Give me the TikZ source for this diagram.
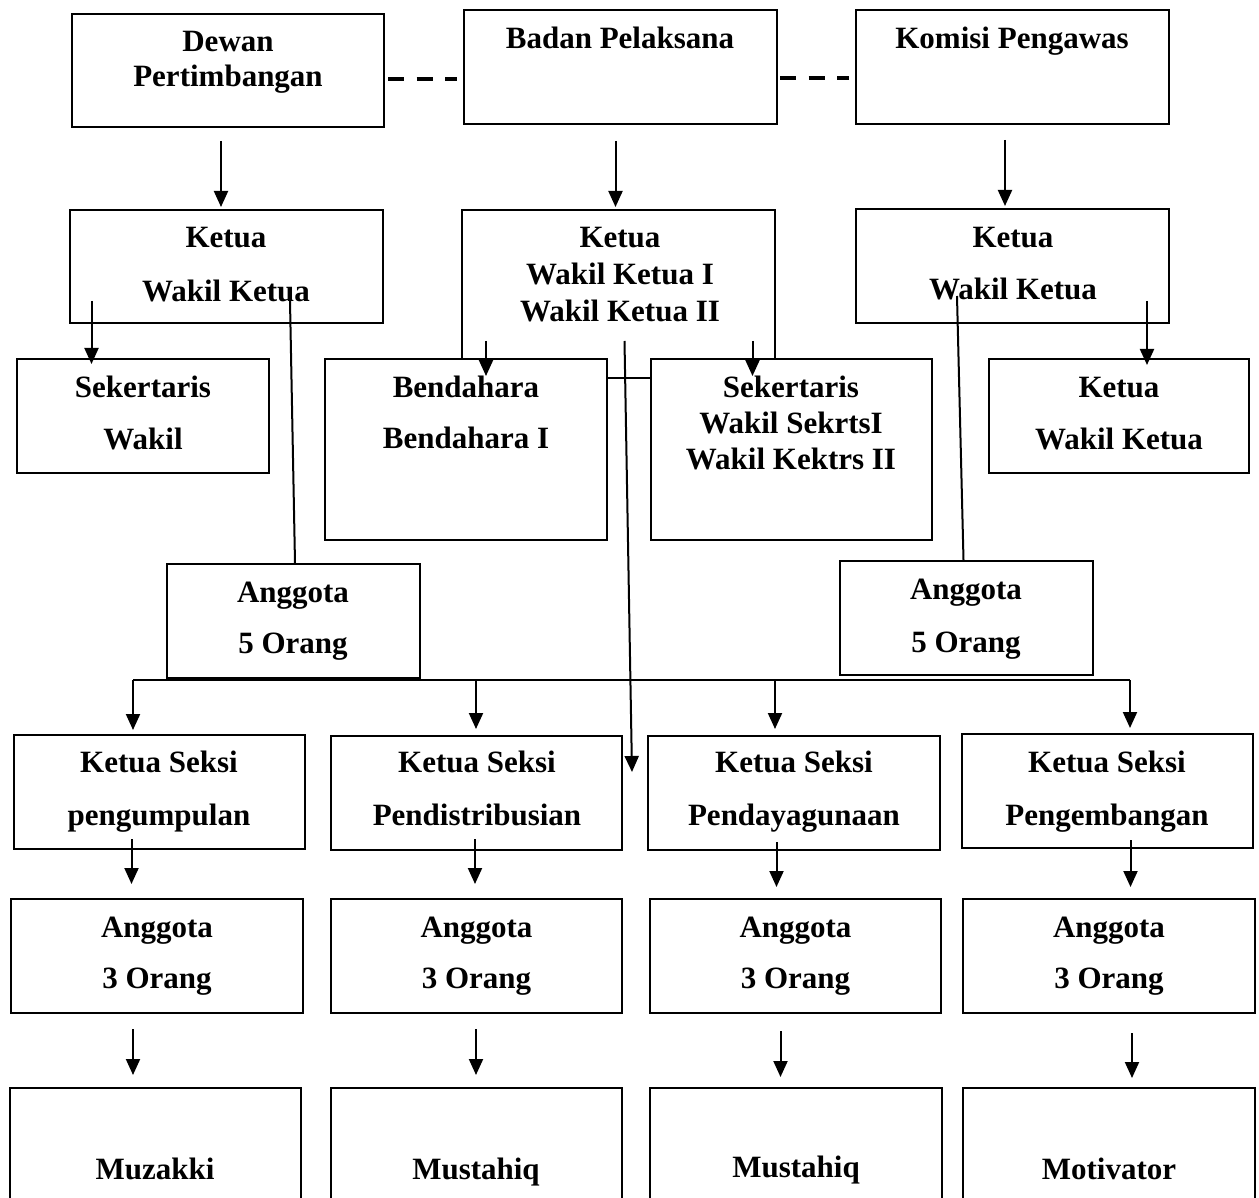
\documentclass[tikz,border=0pt]{standalone}
\usepackage{fontspec}
\setmainfont{Liberation Serif}
\usetikzlibrary{arrows.meta,calc}
\tikzset{
  box/.style={draw, line width=2pt, fill=white, inner sep=0pt},
  txt/.style={anchor=base, inner sep=0pt, font=\bfseries\fontsize{31}{37}\selectfont},
  arr/.style={line width=2pt, -{Triangle[length=16pt,width=14pt]}},
  ln/.style={line width=2pt},
  dashline/.style={line width=4pt, dash pattern=on 16pt off 12.5pt},
}
\begin{document}
\begin{tikzpicture}[x=1pt,y=-1pt]
\clip (0,0) rectangle (1259,1198);
\fill[white] (0,0) rectangle (1259,1198);

% top row
\node[box, minimum width=312pt, minimum height=113pt] (dewan) at (228,70.5) {};
\node[box, minimum width=313pt, minimum height=114pt] (badan) at (620.5,67) {};
\node[box, minimum width=313pt, minimum height=114pt] (komisi) at (1012.5,67) {};
\node[txt] (t-dewan1) at (228,52) {Dewan};
\node[txt] (t-dewan2) at (228,87) {Pertimbangan};
\node[txt] (t-badan) at (620,49) {Badan Pelaksana};
\node[txt] (t-komisi) at (1012,49) {Komisi Pengawas};

\draw[dashline] ($(dewan.east)+(3,8.5)$) -- ($(dewan.east -| badan.west)+(-6,8.5)$);
\draw[dashline] ($(badan.east)+(2,11)$) -- ($(badan.east -| komisi.west)+(-6,11)$);

% second row
\node[box, minimum width=313pt, minimum height=113pt] (kl) at (226.5,266.5) {};
\node[box, minimum width=313pt, minimum height=168pt] (km) at (618.5,294) {};
\node[box, minimum width=313pt, minimum height=114pt] (kr) at (1012.5,266) {};
\node[txt] (t-kl1) at (226,248) {Ketua};
\node[txt] (t-kl2) at (226,302) {Wakil Ketua};
\node[txt] (t-km1) at (620,248) {Ketua};
\node[txt] (t-km2) at (620,285) {Wakil Ketua I};
\node[txt] (t-km3) at (620,322) {Wakil Ketua II};
\node[txt] (t-kr1) at (1013,248) {Ketua};
\node[txt] (t-kr2) at (1013,300) {Wakil Ketua};

\draw[arr] ($(dewan.south)+(-7,13)$) -- ($(kl.north)+(-5.5,-2)$);
\draw[arr] ($(badan.south)+(-5,16)$) -- ($(km.north)+(-3,-2)$);
\draw[arr] ($(komisi.south)+(-7.5,15)$) -- ($(kr.north)+(-7.5,-2)$);

% inner connectors starting inside the boxes
\coordinate (c-kl-sek) at ($(kl.south)+(-135,-23)$);
\coordinate (c-kl-ang) at ($(kl.south)+(63.5,-23)$);
\coordinate (c-km-bend) at ($(km.south)+(-132.5,-38)$);
\coordinate (c-km-sek) at ($(km.south)+(134,-38)$);
\coordinate (c-km-long) at ($(km.south)+(6,-38)$);
\coordinate (c-kr-ang) at ($(kr.south)+(-55.5,-28)$);
\coordinate (c-kr-ket) at ($(kr.south)+(134.5,-23)$);

% third row
\node[box, minimum width=252pt, minimum height=114pt] (sekl) at (143,416) {};
\node[box, minimum width=282pt, minimum height=181pt] (bend) at (466,449.5) {};
\node[box, minimum width=281pt, minimum height=181pt] (sekm) at (791.5,449.5) {};
\node[box, minimum width=260pt, minimum height=114pt] (ketr) at (1119,416) {};
\node[txt] (t-sekl1) at (143,397) {Sekertaris};
\node[txt] (t-sekl2) at (143,449) {Wakil};
\node[txt] (t-bend1) at (466,397) {Bendahara};
\node[txt] (t-bend2) at (466,448) {Bendahara I};
\node[txt] (t-sekm1) at (791,397) {Sekertaris};
\node[txt] (t-sekm2) at (791,433) {Wakil SekrtsI};
\node[txt] (t-sekm3) at (791,469) {Wakil Kektrs II};
\node[txt] (t-ketr1) at (1119,397) {Ketua};
\node[txt] (t-ketr2) at (1119,449) {Wakil Ketua};

% fourth row
\node[box, minimum width=253pt, minimum height=114pt] (angl) at (293.5,621) {};
\node[box, minimum width=253pt, minimum height=114pt] (angr) at (966.5,618) {};
\node[txt] (t-angl1) at (293,602) {Anggota};
\node[txt] (t-angl2) at (293,653) {5 Orang};
\node[txt] (t-angr1) at (966,599) {Anggota};
\node[txt] (t-angr2) at (966,652) {5 Orang};

% seksi rows
\node[box, minimum width=291pt, minimum height=114pt] (ks1) at (159.5,792) {};
\node[box, minimum width=291pt, minimum height=114pt] (ks2) at (476.5,793) {};
\node[box, minimum width=292pt, minimum height=114pt] (ks3) at (794,793) {};
\node[box, minimum width=291pt, minimum height=114pt] (ks4) at (1107.5,791) {};
\node[txt] (t-ks1a) at (159,772) {Ketua Seksi};
\node[txt] (t-ks1b) at (159,825) {pengumpulan};
\node[txt] (t-ks2a) at (477,772) {Ketua Seksi};
\node[txt] (t-ks2b) at (477,825) {Pendistribusian};
\node[txt] (t-ks3a) at (794,772) {Ketua Seksi};
\node[txt] (t-ks3b) at (794,825) {Pendayagunaan};
\node[txt] (t-ks4a) at (1107,772) {Ketua Seksi};
\node[txt] (t-ks4b) at (1107,825) {Pengembangan};

\node[box, minimum width=292pt, minimum height=114pt] (ag1) at (157,956) {};
\node[box, minimum width=291pt, minimum height=114pt] (ag2) at (476.5,956) {};
\node[box, minimum width=291pt, minimum height=114pt] (ag3) at (795.5,956) {};
\node[box, minimum width=292pt, minimum height=114pt] (ag4) at (1109,956) {};
\foreach \n/\x in {1/157,2/476.5,3/795.5,4/1109}{
  \node[txt] (t-ag\n a) at (\x,937) {Anggota};
  \node[txt] (t-ag\n b) at (\x,988) {3 Orang};
}

\node[box, minimum width=291pt, minimum height=150pt] (m1) at (155.5,1163) {};
\node[box, minimum width=291pt, minimum height=150pt] (m2) at (476.5,1163) {};
\node[box, minimum width=292pt, minimum height=150pt] (m3) at (796,1163) {};
\node[box, minimum width=292pt, minimum height=150pt] (m4) at (1109,1163) {};
\node[txt] (t-m1) at (155,1179) {Muzakki};
\node[txt] (t-m2) at (476,1179) {Mustahiq};
\node[txt] (t-m3) at (796,1177) {Mustahiq};
\node[txt] (t-m4) at (1109,1179) {Motivator};

% connectors from second row
\draw[arr] (c-kl-sek) -- ($(c-kl-sek |- sekl.north)+(0,6)$);
\draw[ln] (c-kl-ang) -- ($(angl.north)+(1.5,0)$);
\draw[arr] (c-km-bend) -- ($(c-km-bend |- bend.north)+(0,18)$);
\draw[arr] (c-km-sek) -- ($(c-km-sek |- sekm.north)+(0,18)$);
\draw[ln] (c-kr-ang) -- ($(angr.north)+(-3,0)$);
\draw[arr] (c-kr-ket) -- ($(c-kr-ket |- ketr.north)+(0,7)$);
\draw[arr] (c-km-long) -- ($(ks2.north east)+(9,37)$);

% bus to seksi
\coordinate (b1) at ($(ks1.north)+(-26.5,-54)$);
\coordinate (b2) at ($(ks2.north)+(-0.5,-55)$);
\coordinate (b3) at ($(ks3.north)+(-19,-55)$);
\coordinate (b4) at ($(ks4.north)+(22.5,-53)$);
\draw[ln] (b1) -- (b4);
\draw[arr] (b1) -- ($(b1 |- ks1.north)+(0,-4)$);
\draw[arr] (b2) -- ($(b2 |- ks2.north)+(0,-6)$);
\draw[arr] (b3) -- ($(b3 |- ks3.north)+(0,-6)$);
\draw[arr] (b4) -- ($(b4 |- ks4.north)+(0,-5)$);

% seksi -> anggota
\coordinate (s1) at ($(ks1.south)+(-28,-11)$);
\coordinate (s2) at ($(ks2.south)+(-1.5,-12)$);
\coordinate (s3) at ($(ks3.south)+(-17.5,-9)$);
\coordinate (s4) at ($(ks4.south)+(23,-9)$);
\draw[arr] (s1) -- ($(s1 |- ag1.north)+(0,-14)$);
\draw[arr] (s2) -- ($(s2 |- ag2.north)+(0,-14)$);
\draw[arr] (s3) -- ($(s3 |- ag3.north)+(0,-11)$);
\draw[arr] (s4) -- ($(s4 |- ag4.north)+(0,-11)$);

% anggota -> bottom
\draw[arr] ($(ag1.south)+(-24,15)$) -- ($(ag1.south |- m1.north)+(-24,-12)$);
\draw[arr] ($(ag2.south)+(-0.5,15)$) -- ($(ag2.south |- m2.north)+(-0.5,-12)$);
\draw[arr] ($(ag3.south)+(-15,17)$) -- ($(ag3.south |- m3.north)+(-15,-10)$);
\draw[arr] ($(ag4.south)+(23,19)$) -- ($(ag4.south |- m4.north)+(23,-9)$);
\end{tikzpicture}
\end{document}
